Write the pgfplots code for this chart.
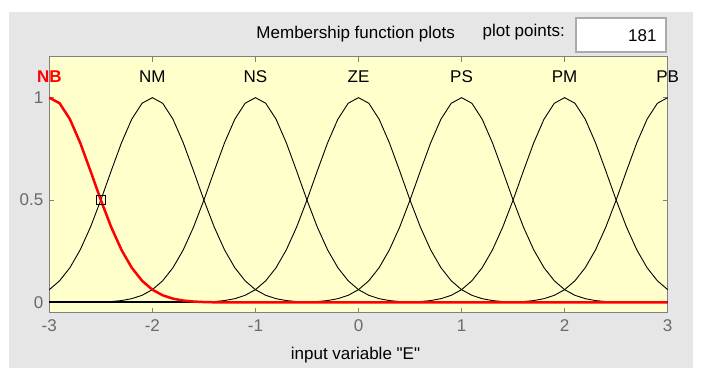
\documentclass[border=0pt]{standalone}
\usepackage{pgfplots}
\pgfplotsset{compat=1.18}
\usepackage{pgfplotstable}
\usepackage{fontspec}
\setmainfont{Liberation Sans}[Ligatures=TeXOff]
\definecolor{panel}{RGB}{230,230,230}
\definecolor{axbg}{RGB}{255,255,204}
\definecolor{axgray}{RGB}{128,128,128}
\definecolor{ticklab}{RGB}{105,105,110}
\definecolor{boxgray}{RGB}{171,171,171}

\pgfplotstableread{
x NB NM NS ZE PS PM PB
-3.0 1 .0625 0 0 0 0 0
-2.9 .9727 .1058 0 0 0 0 0
-2.8 .8950 .1696 .0001 0 0 0 0
-2.7 .7792 .2570 .0003 0 0 0 0
-2.6 .6417 .3686 .0008 0 0 0 0
-2.5 .5 .5 .0020 0 0 0 0
-2.4 .3686 .6417 .0044 0 0 0 0
-2.3 .2570 .7792 .0092 0 0 0 0
-2.2 .1696 .8950 .0185 0 0 0 0
-2.1 .1058 .9727 .0349 0 0 0 0
-2.0 .0625 1 .0625 0 0 0 0
-1.9 .0349 .9727 .1058 0 0 0 0
-1.8 .0185 .8950 .1696 .0001 0 0 0
-1.7 .0092 .7792 .2570 .0003 0 0 0
-1.6 .0044 .6417 .3686 .0008 0 0 0
-1.5 .0020 .5 .5 .0020 0 0 0
-1.4 .0008 .3686 .6417 .0044 0 0 0
-1.3 .0003 .2570 .7792 .0092 0 0 0
-1.2 .0001 .1696 .8950 .0185 0 0 0
-1.1 0 .1058 .9727 .0349 0 0 0
-1.0 0 .0625 1 .0625 0 0 0
-0.9 0 .0349 .9727 .1058 0 0 0
-0.8 0 .0185 .8950 .1696 .0001 0 0
-0.7 0 .0092 .7792 .2570 .0003 0 0
-0.6 0 .0044 .6417 .3686 .0008 0 0
-0.5 0 .0020 .5 .5 .0020 0 0
-0.4 0 .0008 .3686 .6417 .0044 0 0
-0.3 0 .0003 .2570 .7792 .0092 0 0
-0.2 0 .0001 .1696 .8950 .0185 0 0
-0.1 0 0 .1058 .9727 .0349 0 0
0.0 0 0 .0625 1 .0625 0 0
0.1 0 0 .0349 .9727 .1058 0 0
0.2 0 0 .0185 .8950 .1696 .0001 0
0.3 0 0 .0092 .7792 .2570 .0003 0
0.4 0 0 .0044 .6417 .3686 .0008 0
0.5 0 0 .0020 .5 .5 .0020 0
0.6 0 0 .0008 .3686 .6417 .0044 0
0.7 0 0 .0003 .2570 .7792 .0092 0
0.8 0 0 .0001 .1696 .8950 .0185 0
0.9 0 0 0 .1058 .9727 .0349 0
1.0 0 0 0 .0625 1 .0625 0
1.1 0 0 0 .0349 .9727 .1058 0
1.2 0 0 0 .0185 .8950 .1696 .0001
1.3 0 0 0 .0092 .7792 .2570 .0003
1.4 0 0 0 .0044 .6417 .3686 .0008
1.5 0 0 0 .0020 .5 .5 .0020
1.6 0 0 0 .0008 .3686 .6417 .0044
1.7 0 0 0 .0003 .2570 .7792 .0092
1.8 0 0 0 .0001 .1696 .8950 .0185
1.9 0 0 0 0 .1058 .9727 .0349
2.0 0 0 0 0 .0625 1 .0625
2.1 0 0 0 0 .0349 .9727 .1058
2.2 0 0 0 0 .0185 .8950 .1696
2.3 0 0 0 0 .0092 .7792 .2570
2.4 0 0 0 0 .0044 .6417 .3686
2.5 0 0 0 0 .0020 .5 .5
2.6 0 0 0 0 .0008 .3686 .6417
2.7 0 0 0 0 .0003 .2570 .7792
2.8 0 0 0 0 .0001 .1696 .8950
2.9 0 0 0 0 0 .1058 .9727
3.0 0 0 0 0 0 .0625 1
}\mf

\begin{document}
\begin{tikzpicture}[x=1pt,y=1pt,font=\fontsize{17}{20}\selectfont]
\path[fill=white] (0,0) rectangle (713,372);
\path[fill=panel] (9,4) rectangle (693,360);
\node[inner sep=0, anchor=center] at (355.7,338) {Membership function plots};
\node[inner sep=0, anchor=east] at (565,340) {plot points:};
\draw[boxgray, line width=2pt, fill=white] (576,319.7) rectangle (665.7,353.7);
\node[inner sep=0, anchor=east] at (656.7,336) {181};
\begin{axis}[
  at={(49.3pt,59.3pt)}, anchor=south west, scale only axis,
  width=618.4pt, height=256pt,
  xmin=-3, xmax=3, ymin=-0.05, ymax=1.2,
  axis background/.style={fill=axbg},
  axis line style={axgray, line width=1.2pt},
  tick align=inside, major tick length=5pt,
  tick style={axgray, line width=0.8pt},
  xtick={-3,-2,-1,0,1,2,3}, xticklabels={-3,-2,-1,0,1,2,3},
  ytick={0,0.5,1}, yticklabels={0,0.5,1},
  ticklabel style={font=\fontsize{17}{20}\selectfont, text=ticklab},
  xticklabel style={yshift=-3.5pt},
  yticklabel style={xshift=-2.5pt},
  clip=false,
]
\addplot[black, line width=2pt] coordinates {(-3,0) (3,0)};
\addplot[black, line width=0.9pt] table[x=x,y=NM]{\mf};
\addplot[black, line width=0.9pt] table[x=x,y=NS]{\mf};
\addplot[black, line width=0.9pt] table[x=x,y=ZE]{\mf};
\addplot[black, line width=0.9pt] table[x=x,y=PS]{\mf};
\addplot[black, line width=0.9pt] table[x=x,y=PM]{\mf};
\addplot[black, line width=0.9pt] table[x=x,y=PB]{\mf};
\addplot[red, line width=2.5pt] table[x=x,y=NB]{\mf};
\addplot[only marks, mark=square, mark size=4.5pt, mark options={draw=black, line width=1pt, fill=none}] coordinates {(-2.5,0.5)};
\node[red, inner sep=0, font=\fontsize{17}{20}\selectfont\bfseries] at (axis cs:-3,1.103) {NB};
\node[inner sep=0] at (axis cs:-2,1.103) {NM};
\node[inner sep=0] at (axis cs:-1,1.103) {NS};
\node[inner sep=0] at (axis cs:0,1.103) {ZE};
\node[inner sep=0] at (axis cs:1,1.103) {PS};
\node[inner sep=0] at (axis cs:2,1.103) {PM};
\node[inner sep=0] at (axis cs:3,1.103) {PB};
\end{axis}
\node[inner sep=0, anchor=center] at (355.5,17) {input variable "E"};
\end{tikzpicture}
\end{document}
